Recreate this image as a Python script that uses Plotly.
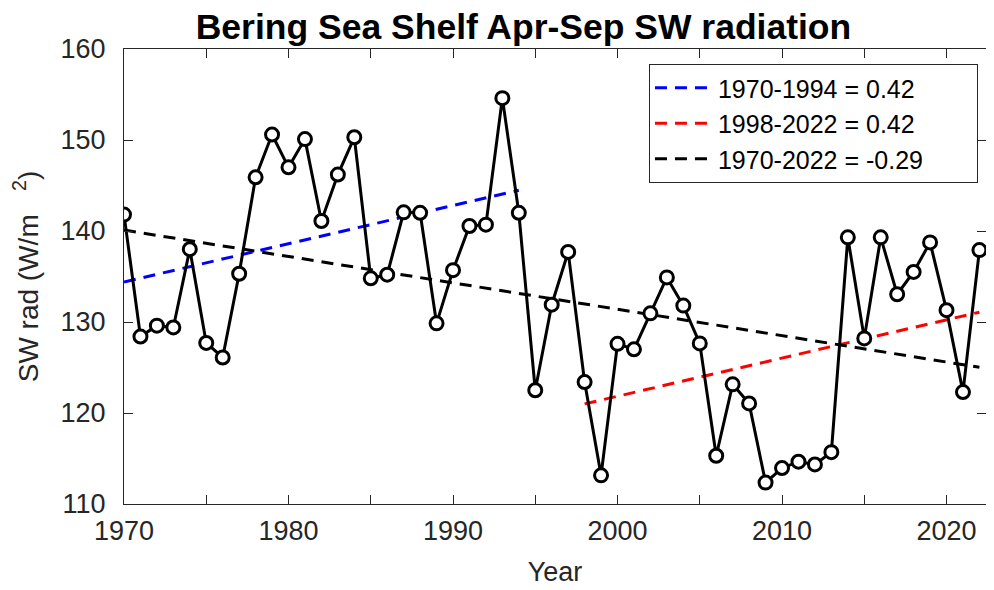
import plotly.graph_objects as go

years = list(range(1970, 2023))
sw_rad = [141.8, 128.4, 129.6, 129.4, 138.0, 127.7, 126.1, 135.3, 145.9, 150.6,
          147.0, 150.1, 141.1, 146.2, 150.3, 134.8, 135.2, 142.05, 142.0, 129.85,
          135.7, 140.55, 140.7, 154.6, 142.0, 122.5, 131.9, 137.7, 123.4, 113.15,
          127.6, 127.0, 130.95, 134.9, 131.8, 127.65, 115.3, 123.15, 121.05, 112.35,
          113.95, 114.65, 114.35, 115.7, 139.3, 128.2, 139.3, 133.05, 135.5, 138.75,
          131.3, 122.3, 137.9]

trend_names = ["1970-1994 = 0.42", "1998-2022 = 0.42", "1970-2022 = -0.29"]
trend_start = [1970, 1998, 1970]
trend_end = [1994, 2022, 2022]
trend_intercept = [134.4, 121.0, 140.1]   # value at start year
trend_slope = [0.42, 0.42, -0.29]
trend_colors = ["#0000ff", "#ff0000", "#000000"]

x_tickvals = list(range(1970, 2025, 5))
x_ticktext = [str(v) if v % 10 == 0 else "" for v in x_tickvals]
y_tickvals = [110, 120, 130, 140, 150, 160]

fig = go.Figure()

pad = "\u00a0" * 7  # legend box padding on the right
for name, s, e, b, m, c in zip(trend_names, trend_start, trend_end, trend_intercept, trend_slope, trend_colors):
    fig.add_trace(go.Scatter(
        x=[s, e], y=[b, b + m * (e - s)], mode="lines", name=name + pad,
        line=dict(color=c, width=3, dash="12px,8px"), showlegend=True,
    ))

fig.add_trace(go.Scatter(
    x=years, y=sw_rad, mode="lines+markers", showlegend=False,
    line=dict(color="black", width=3),
    marker=dict(symbol="circle", size=13, color="white", line=dict(color="black", width=3)),
))

axis_font = dict(family="Liberation Sans, Arial, sans-serif", size=27, color="#262626")
ylab_font = dict(family="Liberation Sans, Arial, sans-serif", size=28, color="#262626")

fig.update_layout(
    width=994, height=590,
    margin=dict(l=116, r=16, t=41, b=94),
    paper_bgcolor="white", plot_bgcolor="white",
    title=dict(text="<b>Bering Sea Shelf Apr-Sep SW radiation</b>", x=0.5186, xanchor="center",
               yref="container", y=0.9678, yanchor="middle",
               font=dict(family="Liberation Sans, Arial, sans-serif", size=35.5, color="black")),
    font=axis_font,
    legend=dict(x=0.609, y=0.967, xanchor="left", yanchor="top", orientation="v",
                bordercolor="#262626", borderwidth=1, bgcolor="white",
                font=dict(family="Liberation Sans, Arial, sans-serif", size=25, color="black"),
                tracegroupgap=0, itemwidth=58),
)

fig.update_xaxes(
    range=[1970, 2022.4], tickvals=x_tickvals, ticktext=x_ticktext,
    ticks="inside", ticklen=9, tickwidth=1, tickcolor="#262626",
    showline=True, linecolor="#262626", linewidth=1, mirror="ticks",
    showgrid=False, zeroline=False, automargin=False, ticklabelstandoff=3,
    title=dict(text="Year", font=axis_font, standoff=16),
    tickfont=axis_font,
)
fig.update_yaxes(
    range=[110, 160], tickvals=y_tickvals,
    ticks="inside", ticklen=9, tickwidth=1, tickcolor="#262626",
    showline=True, linecolor="#262626", linewidth=1, mirror="ticks",
    showgrid=False, zeroline=False, automargin=False, ticklabelstandoff=12,
    title=dict(text="SW rad (W/m\u00a0\u00a0\u00a0<sup>2</sup>)", font=ylab_font, standoff=15),
    tickfont=axis_font,
)

fig.write_html("out.html")
